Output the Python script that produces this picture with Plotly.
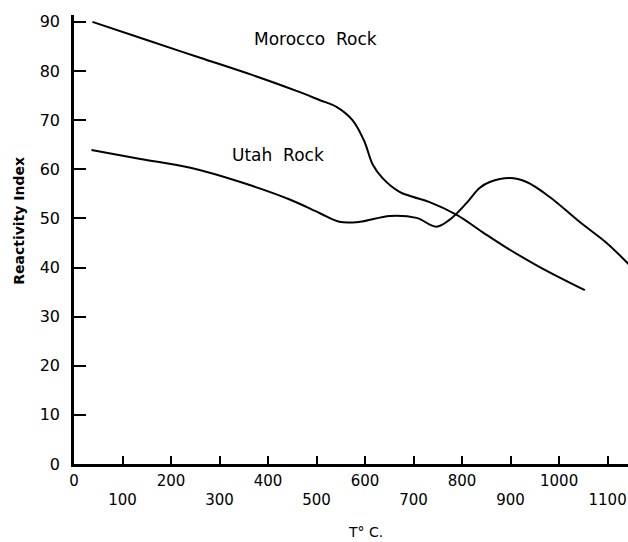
import plotly.graph_objects as go

# Morocco Rock curve (T in °C, reactivity index)
morocco_t = [38, 150, 260, 370, 460, 506, 541, 574, 598, 616, 636, 671, 698, 733, 789, 842, 892, 960, 1053]
morocco_v = [90.0, 86.3, 82.7, 79.1, 75.9, 74.1, 72.7, 70.0, 65.8, 60.9, 58.2, 55.4, 54.4, 53.3, 50.7, 47.2, 44.0, 40.1, 35.4]

# Utah Rock curve
utah_t = [36, 137, 240, 343, 446, 506, 547, 589, 651, 706, 747, 774, 809, 836, 857, 898, 933, 980, 1042, 1098, 1145]
utah_v = [63.9, 62.1, 60.3, 57.4, 53.8, 51.1, 49.3, 49.3, 50.5, 50.1, 48.3, 49.7, 53.1, 56.2, 57.4, 58.2, 57.4, 54.4, 49.3, 45.0, 40.5]

x_tickvals = [0, 100, 200, 300, 400, 500, 600, 700, 800, 900, 1000, 1100]
x_ticktext = ["0", "<br>100", "200", "<br>300", "400", "<br>500", "600",
              "<br>700", "800", "<br>900", "1000", "<br>1100"]
y_tickvals = [0, 10, 20, 30, 40, 50, 60, 70, 80, 90]

FONT = "DejaVu Sans"

fig = go.Figure()
for t, v, name in [(morocco_t, morocco_v, "Morocco Rock"), (utah_t, utah_v, "Utah Rock")]:
    fig.add_trace(go.Scatter(x=t, y=v, mode="lines", name=name,
                             line=dict(color="black", width=2, shape="spline", smoothing=1.0),
                             showlegend=False, cliponaxis=True))

fig.add_annotation(x=600, y=0, xref="x", yref="paper", text="T° C.", showarrow=False,
                   yanchor="middle", yshift=-68, font=dict(family=FONT, size=14, color="black"))
fig.add_annotation(x=0, y=49.5, xref="paper", yref="y", text="<b>Reactivity Index</b>", showarrow=False,
                   textangle=-90, xanchor="center", xshift=-55, font=dict(family=FONT, size=14, color="black"))
fig.add_annotation(x=498, y=86.5, xref="x", yref="y", text="Morocco\u00a0\u00a0Rock", showarrow=False,
                   font=dict(family=FONT, size=17, color="black"))
fig.add_annotation(x=420, y=63.0, xref="x", yref="y", text="Utah\u00a0\u00a0Rock", showarrow=False,
                   font=dict(family=FONT, size=17, color="black"))

fig.update_layout(
    width=628, height=542,
    margin=dict(l=74, r=0, t=15, b=78),
    paper_bgcolor="white", plot_bgcolor="white",
    font=dict(family=FONT, size=15, color="black"),
    xaxis=dict(range=[0, 1142], tickvals=x_tickvals, ticktext=x_ticktext,
               ticks="inside", ticklen=8, tickwidth=1.5, tickcolor="black",
               showline=True, linecolor="black", linewidth=2.5,
               showgrid=False, zeroline=False, ticklabelstandoff=1,
               tickfont=dict(family=FONT, size=15, color="black")),
    yaxis=dict(range=[0, 91.4], tickvals=y_tickvals,
               ticks="inside", ticklen=12, tickwidth=1.5, tickcolor="black",
               showline=True, linecolor="black", linewidth=2.5,
               showgrid=False, zeroline=False, ticklabelstandoff=8,
               tickfont=dict(family=FONT, size=16, color="black")),
)

# Remove the default page margin so the 628x542 figure fills the window exactly.
fig.write_html("out.html", config={"displayModeBar": False},
               post_script="document.body.style.margin='0';document.body.style.overflow='hidden';")
